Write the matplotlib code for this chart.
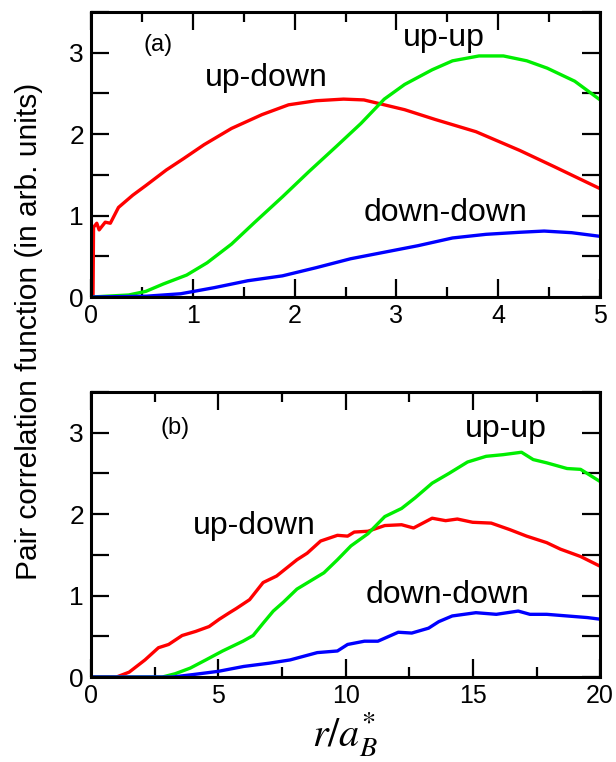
import numpy as np
import matplotlib
matplotlib.use('Agg')
import matplotlib.pyplot as plt
from matplotlib.ticker import MultipleLocator

plt.rcParams['font.family'] = ['Liberation Sans', 'DejaVu Sans']
plt.rcParams['mathtext.fontset'] = 'stix'

# ---- panel (a) data, r in units of a_B* ----
a_ud_x = [0.02, 0.025, 0.057, 0.08, 0.14, 0.19, 0.27, 0.41, 0.54, 0.74, 0.91, 1.11, 1.38,
          1.68, 1.94, 2.21, 2.48, 2.68, 2.88, 3.08, 3.38, 3.78, 4.21, 4.55, 5.0]
a_ud_y = [0, 0.857, 0.906, 0.824, 0.919, 0.906, 1.10, 1.25, 1.37, 1.56, 1.70, 1.87, 2.07,
          2.24, 2.36, 2.41, 2.43, 2.42, 2.36, 2.30, 2.18, 2.03, 1.80, 1.60, 1.33]

a_uu_x = [0, 0.37, 0.54, 0.71, 0.94, 1.14, 1.38, 1.61, 1.88, 2.14, 2.41, 2.65, 2.88,
          3.08, 3.35, 3.55, 3.81, 4.05, 4.28, 4.48, 4.75, 5.0]
a_uu_y = [0, 0.025, 0.07, 0.16, 0.27, 0.42, 0.65, 0.92, 1.23, 1.54, 1.85, 2.13, 2.43,
          2.61, 2.79, 2.90, 2.96, 2.96, 2.90, 2.81, 2.65, 2.42]

a_dd_x = [0, 0.54, 0.88, 1.21, 1.54, 1.88, 2.21, 2.55, 2.88, 3.21, 3.55, 3.88, 4.21,
          4.45, 4.72, 5.0]
a_dd_y = [0, 0.01, 0.04, 0.115, 0.20, 0.26, 0.36, 0.47, 0.55, 0.63, 0.725, 0.77, 0.795,
          0.81, 0.79, 0.745]

# ---- panel (b) data ----
b_ud_x = [0, 1.0, 1.5, 2.12, 2.65, 3.05, 3.58, 4.11, 4.64, 5.04, 5.44, 5.70, 6.23, 6.76,
          7.29, 8.09, 8.49, 9.02, 9.68, 10.08, 10.34, 10.88, 11.54, 12.20, 12.67, 13.40,
          13.93, 14.39, 14.99, 15.72, 16.45, 17.11, 17.90, 18.44, 19.23, 20.0]
b_ud_y = [0, 0, 0.06, 0.21, 0.36, 0.40, 0.51, 0.56, 0.62, 0.71, 0.79, 0.84, 0.95, 1.16,
          1.24, 1.44, 1.52, 1.67, 1.74, 1.73, 1.78, 1.79, 1.86, 1.87, 1.83, 1.95,
          1.92, 1.94, 1.90, 1.89, 1.81, 1.73, 1.65, 1.57, 1.48, 1.36]

b_uu_x = [0, 2.8, 3.3, 3.9, 4.51, 5.17, 5.57, 5.97, 6.37, 6.76, 7.16, 7.56, 8.09, 8.62,
          9.15, 9.68, 10.21, 10.88, 11.54, 12.20, 12.73, 13.40, 14.06, 14.79, 15.52,
          16.18, 16.91, 17.37, 17.90, 18.70, 19.23, 20.0]
b_uu_y = [0, 0, 0.04, 0.11, 0.21, 0.32, 0.38, 0.44, 0.51, 0.66, 0.81, 0.92, 1.08, 1.18,
          1.28, 1.44, 1.61, 1.76, 1.97, 2.07, 2.20, 2.38, 2.50, 2.64, 2.71,
          2.73, 2.76, 2.67, 2.63, 2.56, 2.55, 2.40]

b_dd_x = [0, 3.2, 4.0, 5.0, 6.0, 7.0, 7.82, 8.89, 9.68, 10.08, 10.74, 11.27, 12.07, 12.60,
          13.26, 13.66, 14.19, 15.12, 15.92, 16.78, 17.24, 17.90, 18.70, 19.50, 20.0]
b_dd_y = [0, 0, 0.03, 0.07, 0.13, 0.17, 0.21, 0.30, 0.32, 0.40, 0.44, 0.44, 0.55, 0.54,
          0.60, 0.68, 0.75, 0.79, 0.77, 0.81, 0.77, 0.77, 0.75, 0.73, 0.71]

labels = ['up-down', 'up-up', 'down-down']
colors = ['#ff0000', '#00ee00', '#0000ff']


def style_axes(ax, xmax, xmajor, xminor):
    ax.set_xlim(0, xmax)
    ax.set_ylim(0, 3.5)
    ax.xaxis.set_major_locator(MultipleLocator(xmajor))
    ax.xaxis.set_minor_locator(MultipleLocator(xminor))
    ax.yaxis.set_major_locator(MultipleLocator(1))
    ax.yaxis.set_minor_locator(MultipleLocator(0.5))
    ax.tick_params(which='both', direction='in', top=True, right=True, width=1.6)
    ax.tick_params(axis='x', which='major', length=13, labelsize=18, pad=5)
    ax.tick_params(axis='x', which='minor', length=7)
    ax.tick_params(axis='y', which='both', length=13, labelsize=19, pad=5)
    for s in ax.spines.values():
        s.set_linewidth(2.2)


fig = plt.figure(figsize=(6.16, 7.62), dpi=100)
ax1 = fig.add_axes([0.1477, 0.6102, 0.8266, 0.3741])
ax2 = fig.add_axes([0.1477, 0.1115, 0.8266, 0.3741])

lw = 2.4
ax1.plot(a_ud_x, a_ud_y, color=colors[0], lw=lw)
ax1.plot(a_uu_x, a_uu_y, color=colors[1], lw=lw)
ax1.plot(a_dd_x, a_dd_y, color=colors[2], lw=lw)
style_axes(ax1, 5, 1, 0.5)
ax1.text(0.66, 3.1, '(a)', fontsize=17, ha='center', va='center')
ax1.text(1.72, 2.69, labels[0], fontsize=23, ha='center', va='center')
ax1.text(3.46, 3.18, labels[1], fontsize=23, ha='center', va='center')
ax1.text(3.48, 1.03, labels[2], fontsize=23, ha='center', va='center')

ax2.plot(b_ud_x, b_ud_y, color=colors[0], lw=lw)
ax2.plot(b_uu_x, b_uu_y, color=colors[1], lw=lw)
ax2.plot(b_dd_x, b_dd_y, color=colors[2], lw=lw)
style_axes(ax2, 20, 5, 2.5)
ax2.text(3.3, 3.06, '(b)', fontsize=17, ha='center', va='center')
ax2.text(6.4, 1.85, labels[0], fontsize=23, ha='center', va='center')
ax2.text(16.3, 3.04, labels[1], fontsize=23, ha='center', va='center')
ax2.text(14.0, 1.01, labels[2], fontsize=23, ha='center', va='center')

fig.text(0.047, 0.565, 'Pair correlation function (in arb. units)', rotation=90,
         fontsize=21.5, ha='center', va='center')
fig.text(0.56, 0.004, r'$r/a^{*}_{B}$', fontsize=29, ha='center', va='bottom')

fig.savefig('out.png', dpi=100)
